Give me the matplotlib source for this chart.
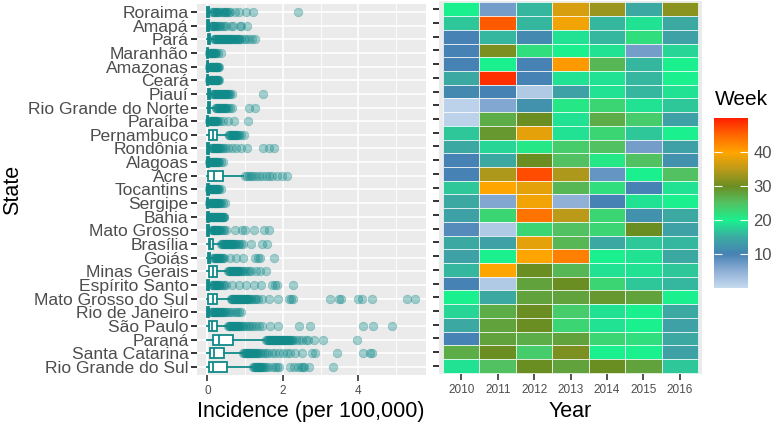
import matplotlib.pyplot as plt
import numpy as np
from matplotlib.colors import LinearSegmentedColormap, Normalize
from matplotlib.cm import ScalarMappable

plt.rcParams['font.family'] = ['Liberation Sans', 'DejaVu Sans']

states = ["Roraima", "Amapá", "Pará", "Maranhão", "Amazonas", "Ceará", "Piauí",
          "Rio Grande do Norte", "Paraíba", "Pernambuco", "Rondônia", "Alagoas",
          "Acre", "Tocantins", "Sergipe", "Bahia", "Mato Grosso", "Brasília",
          "Goiás", "Minas Gerais", "Espírito Santo", "Mato Grosso do Sul",
          "Rio de Janeiro", "São Paulo", "Paraná", "Santa Catarina",
          "Rio Grande do Sul"]
years = [2010, 2011, 2012, 2013, 2014, 2015, 2016]

# boxplot summaries (incidence per 100,000)
box_q1 = [0.0, 0.0, 0.01, 0.0, 0.0, 0.0, 0.01, 0.01, 0.0, 0.03, 0.0, 0.0, 0.02, 0.0,
          0.0, 0.0, 0.0, 0.03, 0.01, 0.04, 0.0, 0.02, 0.0, 0.04, 0.15, 0.06, 0.04]
box_med = [0.02, 0.02, 0.04, 0.01, 0.01, 0.01, 0.03, 0.03, 0.01, 0.14, 0.02, 0.01, 0.18,
           0.01, 0.01, 0.01, 0.02, 0.08, 0.03, 0.14, 0.02, 0.14, 0.02, 0.13, 0.3, 0.18, 0.15]
box_q3 = [0.04, 0.04, 0.08, 0.02, 0.02, 0.02, 0.06, 0.08, 0.02, 0.25, 0.04, 0.03, 0.4,
          0.03, 0.02, 0.03, 0.05, 0.16, 0.07, 0.26, 0.05, 0.26, 0.04, 0.25, 0.68, 0.45, 0.53]
box_whishi = [0.09, 0.08, 0.15, 0.04, 0.04, 0.04, 0.12, 0.18, 0.04, 0.5, 0.08, 0.06, 0.95,
              0.06, 0.04, 0.06, 0.1, 0.33, 0.14, 0.5, 0.1, 0.6, 0.08, 0.53, 1.5, 0.92, 1.19]
outliers = [
    [0.12, 0.15, 0.18, 0.2, 0.23, 0.26, 0.28, 0.32, 0.36, 0.4, 0.43, 0.46, 0.48, 0.52, 0.56,
     0.6, 0.72, 0.84, 1.01, 1.21, 2.40],
    [0.1, 0.12, 0.14, 0.16, 0.18, 0.2, 0.22, 0.26, 0.3, 0.34, 0.38, 0.43, 0.5, 0.62, 0.69,
     0.86, 0.9, 1.05],
    [0.17, 0.19, 0.21, 0.23, 0.25, 0.27, 0.29, 0.31, 0.33, 0.35, 0.37, 0.39, 0.41, 0.43, 0.45,
     0.47, 0.49, 0.51, 0.53, 0.55, 0.57, 0.59, 0.61, 0.63, 0.65, 0.68, 0.7, 0.73, 0.75, 0.78,
     0.8, 0.83, 0.85, 0.9, 0.96, 1.02, 1.1, 1.18, 1.25],
    [0.05, 0.06, 0.08, 0.09, 0.11, 0.12, 0.14, 0.15, 0.17, 0.19, 0.2, 0.23, 0.27, 0.37],
    [0.05, 0.06, 0.08, 0.09, 0.11, 0.12, 0.14, 0.15, 0.17, 0.19, 0.2, 0.22, 0.23, 0.25, 0.26,
     0.28, 0.29, 0.31],
    [0.05, 0.06, 0.08, 0.09, 0.11, 0.12, 0.14, 0.15, 0.17, 0.19, 0.2, 0.22, 0.23, 0.25, 0.26,
     0.28, 0.29, 0.31],
    [0.14, 0.16, 0.18, 0.2, 0.22, 0.24, 0.26, 0.28, 0.3, 0.32, 0.34, 0.36, 0.38, 0.4, 0.42,
     0.44, 0.46, 0.48, 0.5, 0.53, 0.55, 0.58, 0.6, 0.65, 1.48],
    [0.22, 0.24, 0.26, 0.28, 0.3, 0.32, 0.34, 0.36, 0.38, 0.4, 0.42, 0.44, 0.46, 0.48, 0.5,
     0.55, 0.6, 0.65, 1.1, 1.27],
    [0.05, 0.06, 0.08, 0.09, 0.11, 0.12, 0.14, 0.15, 0.17, 0.19, 0.2, 0.22, 0.24, 0.26, 0.28,
     0.33, 0.4, 0.55, 0.7, 1.08],
    [0.56, 0.58, 0.6, 0.62, 0.64, 0.66, 0.68, 0.7, 0.72, 0.74, 0.76, 0.78, 0.8, 0.84, 0.9, 0.96],
    [0.1, 0.12, 0.14, 0.16, 0.18, 0.2, 0.22, 0.24, 0.26, 0.28, 0.3, 0.32, 0.34, 0.38, 0.42,
     0.46, 0.55, 0.66, 0.75, 0.88, 1.04, 1.48, 1.64, 1.76],
    [0.05, 0.07, 0.08, 0.1, 0.11, 0.13, 0.14, 0.16, 0.17, 0.19, 0.2, 0.22, 0.23, 0.25, 0.27,
     0.28, 0.31, 0.35, 0.4],
    [1.0, 1.05, 1.1, 1.15, 1.22, 1.3, 1.36, 1.45, 1.55, 1.62, 1.72, 1.85, 1.98, 2.1],
    [0.05, 0.07, 0.08, 0.1, 0.11, 0.13, 0.14, 0.16, 0.17, 0.19, 0.2, 0.22, 0.23, 0.25, 0.27,
     0.28, 0.32, 0.35],
    [0.05, 0.06, 0.08, 0.09, 0.11, 0.12, 0.14, 0.15, 0.17, 0.19, 0.2, 0.22, 0.23, 0.25, 0.27,
     0.29, 0.31, 0.33, 0.36, 0.42, 0.46],
    [0.07, 0.08, 0.1, 0.11, 0.13, 0.14, 0.16, 0.17, 0.19, 0.2, 0.22, 0.23, 0.25, 0.26, 0.28,
     0.29, 0.31, 0.33, 0.34, 0.36, 0.37, 0.39, 0.4, 0.42, 0.43, 0.45],
    [0.12, 0.14, 0.15, 0.17, 0.18, 0.2, 0.21, 0.23, 0.24, 0.26, 0.27, 0.29, 0.3, 0.33, 0.36,
     0.4, 0.44, 0.48, 0.73, 0.92, 1.0, 1.23, 1.5, 1.63],
    [0.36, 0.38, 0.4, 0.42, 0.44, 0.46, 0.48, 0.5, 0.52, 0.54, 0.56, 0.58, 0.6, 0.62, 0.64,
     0.66, 0.68, 0.7, 0.72, 0.76, 0.8, 0.85, 0.9, 0.95, 1.15, 1.45, 1.58],
    [0.16, 0.18, 0.2, 0.22, 0.24, 0.26, 0.28, 0.3, 0.32, 0.34, 0.36, 0.38, 0.4, 0.45, 0.6,
     0.77, 0.95, 1.27, 1.33, 1.4, 1.76],
    [0.55, 0.57, 0.59, 0.61, 0.63, 0.65, 0.67, 0.69, 0.71, 0.73, 0.75, 0.77, 0.79, 0.81, 0.83,
     0.85, 0.87, 0.91, 0.95, 1.0, 1.05, 1.1, 1.15, 1.3, 1.4, 1.55],
    [0.12, 0.14, 0.16, 0.18, 0.2, 0.22, 0.24, 0.26, 0.28, 0.3, 0.32, 0.36, 0.4, 0.45, 0.5,
     0.65, 0.84, 1.01, 1.23, 1.42, 1.71, 1.8, 1.85, 2.26],
    [0.62, 0.64, 0.66, 0.68, 0.7, 0.72, 0.74, 0.76, 0.78, 0.8, 0.82, 0.84, 0.86, 0.88, 0.9,
     0.92, 0.94, 0.96, 0.98, 1.0, 1.02, 1.04, 1.06, 1.08, 1.1, 1.13, 1.15, 1.2, 1.25, 1.3,
     1.35, 1.45, 1.63, 1.86, 2.17, 2.22, 2.26, 3.24, 3.49, 3.54, 3.98, 4.09, 4.35, 5.28, 5.51],
    [0.1, 0.12, 0.14, 0.16, 0.18, 0.2, 0.22, 0.24, 0.26, 0.28, 0.3, 0.32, 0.34, 0.36, 0.38,
     0.4, 0.42, 0.46, 0.5, 0.55, 0.6, 0.66, 0.72, 0.78, 0.84, 0.9],
    [0.55, 0.57, 0.59, 0.61, 0.63, 0.65, 0.67, 0.69, 0.71, 0.73, 0.75, 0.77, 0.79, 0.81, 0.83,
     0.85, 0.87, 0.91, 0.95, 1.0, 1.05, 1.1, 1.15, 1.2, 1.28, 1.36, 1.45, 1.67, 1.86, 2.42,
     2.73, 4.12, 4.38, 4.9],
    [1.55, 1.58, 1.6, 1.62, 1.64, 1.66, 1.68, 1.7, 1.72, 1.74, 1.76, 1.78, 1.8, 1.82, 1.84,
     1.86, 1.88, 1.9, 1.92, 1.94, 1.96, 1.98, 2.0, 2.02, 2.04, 2.06, 2.08, 2.1, 2.12, 2.15,
     2.17, 2.2, 2.22, 2.25, 2.28, 2.35, 2.42, 2.5, 2.6, 2.66, 2.83, 3.06, 3.96],
    [0.95, 0.98, 1.0, 1.02, 1.04, 1.06, 1.08, 1.1, 1.12, 1.14, 1.16, 1.18, 1.2, 1.23, 1.25,
     1.28, 1.3, 1.33, 1.35, 1.4, 1.45, 1.5, 1.55, 1.6, 1.7, 1.8, 1.9, 2.0, 2.1, 2.2, 2.33,
     2.5, 2.77, 2.86, 3.43, 4.13, 4.31, 4.35],
    [1.22, 1.24, 1.26, 1.28, 1.3, 1.32, 1.34, 1.36, 1.38, 1.4, 1.42, 1.44, 1.46, 1.5, 1.55,
     1.6, 1.7, 1.8, 1.85, 1.9, 2.2, 2.3, 2.4, 2.48, 2.52, 2.56, 2.68, 3.32],
]

# epidemiological week of the yearly peak, rows = states, cols = years
peak_week = [
    [20, 7, 16, 37, 33, 15, 32],
    [17, 46, 16, 39, 16, 19, 15],
    [10, 16, 11, 19, 16, 22, 14],
    [10, 31, 22, 20, 19, 7, 18],
    [10, 20, 10, 41, 26, 16, 20],
    [15, 49, 10, 19, 19, 16, 20],
    [11, 10, 2, 14, 19, 16, 19],
    [1, 6, 12, 21, 23, 19, 17],
    [1, 27, 30, 19, 27, 24, 14],
    [17, 29, 38, 19, 23, 17, 20],
    [15, 18, 21, 24, 25, 7, 14],
    [10, 15, 30, 25, 21, 25, 12],
    [10, 34, 47, 34, 8, 20, 25],
    [17, 40, 38, 26, 22, 10, 19],
    [15, 6, 39, 5, 10, 19, 20],
    [14, 23, 44, 35, 23, 12, 15],
    [9, 2, 23, 25, 23, 30, 14],
    [15, 14, 38, 26, 15, 17, 16],
    [14, 20, 40, 43, 20, 19, 15],
    [16, 40, 30, 26, 19, 19, 17],
    [10, 2, 28, 30, 23, 17, 16],
    [20, 15, 28, 28, 29, 28, 20],
    [18, 27, 30, 24, 19, 20, 15],
    [15, 28, 30, 23, 19, 20, 14],
    [10, 28, 27, 28, 23, 22, 15],
    [27, 30, 24, 31, 20, 20, 14],
    [19, 25, 30, 28, 30, 28, 17],
]

teal = "#118a8a"
grey_bg = "#EBEBEB"
tick_col = "#4D4D4D"

fig = plt.figure(figsize=(7.78, 4.25), dpi=100)

# ---- left: boxplots ----
ax1 = fig.add_axes([0.2532, 0.1172, 0.2943, 0.874])
ax1.set_facecolor(grey_bg)
n = len(states)
pos = np.arange(n)
stats = []
for i in range(n):
    stats.append(dict(med=box_med[i], q1=box_q1[i], q3=box_q3[i],
                      whislo=0.0, whishi=box_whishi[i], fliers=outliers[i]))
ax1.bxp(stats, positions=pos, widths=0.75, orientation='horizontal',
        patch_artist=True, showcaps=False, manage_ticks=False,
        boxprops=dict(facecolor='white', edgecolor=teal, linewidth=1.3),
        medianprops=dict(color=teal, linewidth=1.3),
        whiskerprops=dict(color=teal, linewidth=1.3),
        flierprops=dict(marker='o', markerfacecolor=teal, markeredgecolor=teal,
                        alpha=0.36, markersize=6.2, markeredgewidth=0.5))
ax1.set_xlim(-0.276, 5.79)
ax1.set_ylim(n - 1 + 0.6, -0.6)
ax1.set_yticks(pos)
ax1.set_yticklabels(states, fontsize=12.6, color=tick_col)
ax1.set_xticks([0, 2, 4])
ax1.set_xticks([1, 3, 5], minor=True)
ax1.set_xticklabels(["0", "2", "4"], fontsize=8.5, color=tick_col)
ax1.tick_params(axis='y', length=4, width=1.4, color='#333333', pad=2)
ax1.tick_params(axis='x', which='major', length=4, width=1.2, color='#333333', pad=3)
ax1.tick_params(axis='x', which='minor', length=0)
ax1.grid(True, which='major', color='white', linewidth=1.2)
ax1.grid(True, which='minor', axis='x', color='white', linewidth=0.6)
ax1.set_axisbelow(True)
for s in ax1.spines.values():
    s.set_visible(False)

# ---- right: heatmap ----
cmap = LinearSegmentedColormap.from_list(
    "week", ["#C6DBEF", "#8FAFD6", "#4682B4", "#3BAAA2", "#1AF08E", "#52C262",
             "#6B8E23", "#BB9A1A", "#FFA500", "#FF6A00", "#FF2000"])
norm = Normalize(vmin=0, vmax=50)

ax2 = fig.add_axes([0.5648, 0.12, 0.3371, 0.8774])
ax2.set_facecolor(grey_bg)
weeks = np.array(peak_week)
ax2.pcolormesh(np.arange(len(years) + 1) - 0.5, np.arange(n + 1) - 0.5, weeks,
               cmap=cmap, norm=norm, edgecolors=(1, 1, 1, 0.8), linewidth=0.6)
ax2.set_xlim(-0.6, len(years) - 1 + 0.6)
ax2.set_ylim(n - 1 + 0.6, -0.6)
ax2.set_xticks(np.arange(len(years)))
ax2.set_xticklabels([str(y) for y in years], fontsize=8.5, color=tick_col)
ax2.set_yticks(pos)
ax2.set_yticklabels([])
ax2.tick_params(axis='y', length=4, width=1.4, color='#333333', pad=2)
ax2.tick_params(axis='x', length=4, width=1.2, color='#333333', pad=3)
for s in ax2.spines.values():
    s.set_visible(False)

# ---- colour bar ----
cax = fig.add_axes([0.9177, 0.3216, 0.0437, 0.4])
cb = fig.colorbar(ScalarMappable(norm=norm, cmap=cmap), cax=cax)
cb.outline.set_visible(False)
cb.set_ticks([10, 20, 30, 40])
cax.yaxis.set_ticks_position('both')
cax.tick_params(axis='y', direction='in', length=6, width=0.8, color='white',
                labelsize=12, labelcolor=tick_col, left=True, right=True,
                labelleft=False, labelright=True, pad=4)
fig.text(0.919, 0.765, "Week", fontsize=15, va='center', ha='left')

# ---- axis titles ----
fig.text(0.4, 0.031, "Incidence (per 100,000)", fontsize=15.5, ha='center', va='center')
fig.text(0.7333, 0.031, "Year", fontsize=15.5, ha='center', va='center')
fig.text(0.016, 0.554, "State", fontsize=15.5, rotation=90, ha='center', va='center')

fig.savefig("out.png", dpi=100)
